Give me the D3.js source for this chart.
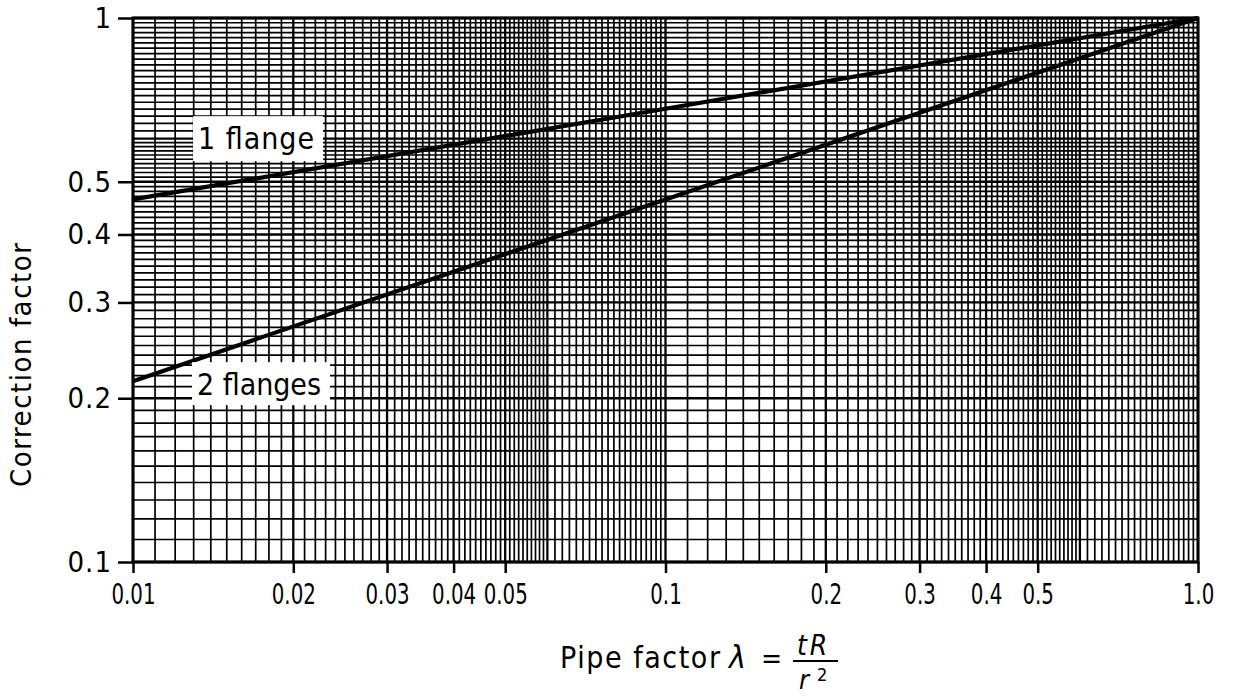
<!DOCTYPE html>
<html>
<head>
<meta charset="utf-8">
<script src="https://cdn.jsdelivr.net/npm/d3@7"></script>
<style>
  body { margin: 0; background: #fff; }
  text { font-family: "DejaVu Sans Condensed", "DejaVu Sans", sans-serif; fill: #000; }
</style>
</head>
<body>
<div id="chart"></div>
<script>
// pipe factor values the curves were read at
const lambdaPts = [0.01, 0.1, 1.0];
// correction factor, one flange / two flanges
const oneFlange = [0.464, 0.681, 1.0];
const twoFlanges = [0.215, 0.464, 1.0];

// labelled ticks
const xTicks = [0.01, 0.02, 0.03, 0.04, 0.05, 0.1, 0.2, 0.3, 0.4, 0.5, 1.0];
const xTickLabels = ["0.01", "0.02", "0.03", "0.04", "0.05", "0.1", "0.2", "0.3", "0.4", "0.5", "1.0"];
const yTicks = [0.1, 0.2, 0.3, 0.4, 0.5, 1];
const yTickLabels = ["0.1", "0.2", "0.3", "0.4", "0.5", "1"];

const W = 1233, H = 697;
const margin = { top: 18, right: 35, bottom: 135, left: 133 };

const svg = d3.select("#chart").append("svg")
    .attr("width", W)
    .attr("height", H);

const x = d3.scaleLog().domain([0.01, 1]).range([margin.left, W - margin.right]);
const y = d3.scaleLog().domain([0.1, 1]).range([H - margin.bottom, margin.top]);

//log paper: 1..6 in steps of 0.1, 6..10 in steps of 0.2, each decade
function paperLines(decades) {
    let out = [];
    decades.forEach(d => {
        for (let i = 10; i < 60; i++) out.push({ v: d * i / 10, major: i % 10 === 0 });
        for (let i = 30; i < 50; i++) out.push({ v: d * i / 5, major: i === 30 });
    });
    return out;
}
const vLines = paperLines([0.01, 0.1]).concat([{ v: 1, major: true }]);
const hLines = paperLines([0.1]).concat([{ v: 1, major: true }]);

const grid = svg.append("g").attr("class", "grid");

grid.selectAll(".vline")
    .data(vLines)
    .join("line")
    .attr("class", "vline")
    .attr("x1", d => x(d.v)).attr("x2", d => x(d.v))
    .attr("y1", y(1)).attr("y2", y(0.1))
    .attr("stroke", "#000")
    .attr("stroke-width", d => d.major ? 2.3 : 1.7);

grid.selectAll(".hline")
    .data(hLines)
    .join("line")
    .attr("class", "hline")
    .attr("y1", d => y(d.v)).attr("y2", d => y(d.v))
    .attr("x1", x(0.01)).attr("x2", x(1))
    .attr("stroke", "#000")
    .attr("stroke-width", d => d.major ? 2.3 : 1.7);

//frame
svg.append("rect")
    .attr("x", x(0.01)).attr("y", y(1))
    .attr("width", x(1) - x(0.01))
    .attr("height", y(0.1) - y(1))
    .attr("fill", "none")
    .attr("stroke", "#000")
    .attr("stroke-width", 3);

//axes
const xAxis = svg.append("g")
    .attr("transform", `translate(0,${y(0.1)})`)
    .call(d3.axisBottom(x).tickValues(xTicks).tickSize(11).tickPadding(10)
        .tickFormat((d, i) => xTickLabels[i]));
xAxis.select(".domain").remove();
xAxis.selectAll(".tick line").attr("stroke", "#000").attr("stroke-width", 2.5);
//the original lettering is narrow, so squeeze the labels sideways
xAxis.selectAll(".tick text")
    .attr("font-size", 29)
    .attr("transform", "scale(0.76,1)");

const yAxis = svg.append("g")
    .attr("transform", `translate(${x(0.01)},0)`)
    .call(d3.axisLeft(y).tickValues(yTicks).tickSize(15).tickPadding(6)
        .tickFormat((d, i) => yTickLabels[i]));
yAxis.select(".domain").remove();
yAxis.selectAll(".tick line").attr("stroke", "#000").attr("stroke-width", 2.5);
yAxis.selectAll(".tick text").attr("font-size", 29).attr("letter-spacing", 1);

//curves
const line = d3.line()
    .x((d, i) => x(lambdaPts[i]))
    .y(d => y(d));

[oneFlange, twoFlanges].forEach(series => {
    svg.append("path")
        .datum(series)
        .attr("d", line)
        .attr("fill", "none")
        .attr("stroke", "#000")
        .attr("stroke-width", 4.2);
});

//curve labels with white boxes
function boxLabel(txt, left, top, w, h) {
    const g = svg.append("g");
    g.append("rect")
        .attr("x", left).attr("y", top)
        .attr("width", w).attr("height", h)
        .attr("fill", "#fff");
    g.append("text")
        .attr("x", left + 5).attr("y", top + 33)
        .attr("font-size", 30)
        .attr("textLength", w - 14)
        .attr("lengthAdjust", "spacing")
        .text(txt);
}
boxLabel("1 flange", x(0.01) + 60, y(0.66), 130, 45);
boxLabel("2 flanges", x(0.01) + 59, y(0.233), 138, 43);

//axis titles
svg.append("text")
    .attr("transform", `translate(31,${(y(0.1) + y(1)) / 2 + 75}) rotate(-90)`)
    .attr("text-anchor", "middle")
    .attr("font-size", 29)
    .attr("textLength", 244)
    .attr("lengthAdjust", "spacing")
    .text("Correction factor");

const xt = svg.append("g");
xt.append("text")
    .attr("x", 560).attr("y", 668)
    .attr("font-size", 30)
    .attr("textLength", 160)
    .attr("lengthAdjust", "spacing")
    .text("Pipe factor");
xt.append("text")
    .attr("x", 729).attr("y", 668)
    .attr("font-size", 32)
    .attr("font-style", "italic")
    .text("λ");
xt.append("text")
    .attr("x", 761).attr("y", 668)
    .attr("font-size", 28)
    .text("=");
xt.append("text")
    .attr("x", 797).attr("y", 655)
    .attr("font-size", 28)
    .attr("font-style", "italic")
    .attr("letter-spacing", 3)
    .text("tR");
xt.append("line")
    .attr("x1", 793).attr("x2", 838)
    .attr("y1", 661).attr("y2", 661)
    .attr("stroke", "#000").attr("stroke-width", 2);
xt.append("text")
    .attr("x", 799).attr("y", 689)
    .attr("font-size", 27)
    .attr("font-style", "italic")
    .text("r");
xt.append("text")
    .attr("x", 817).attr("y", 681)
    .attr("font-size", 18)
    .text("2");
</script>
</body>
</html>
